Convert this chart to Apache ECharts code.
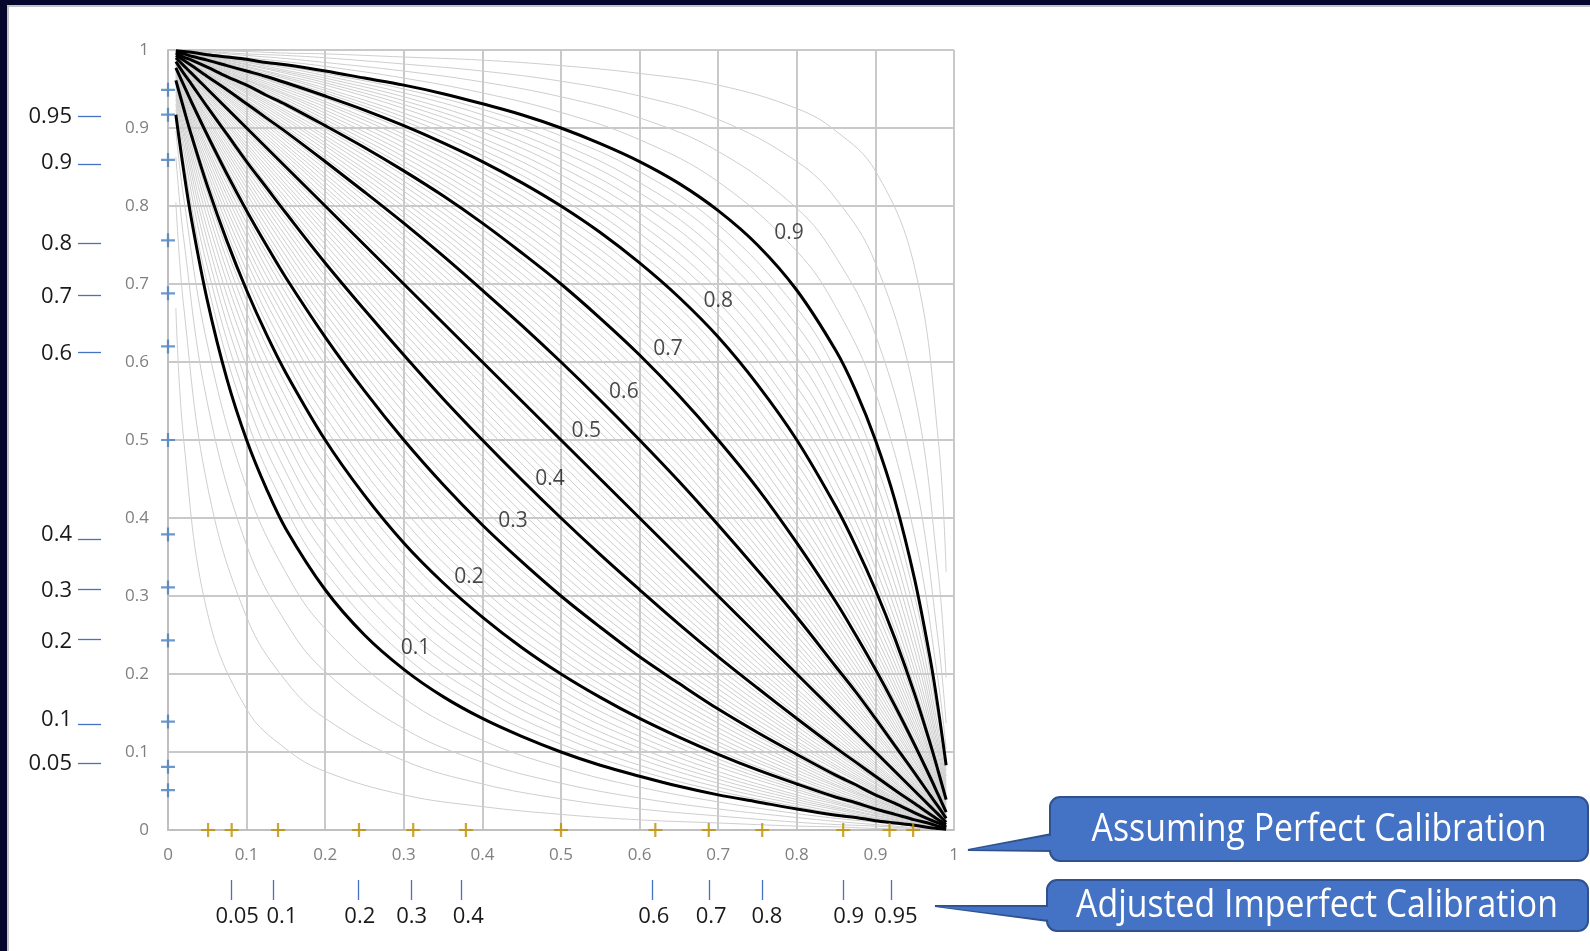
<!DOCTYPE html>
<html>
<head>
<meta charset="utf-8">
<title>Calibration curves</title>
<script src="https://cdn.jsdelivr.net/npm/echarts@6.0.0/dist/echarts.min.js"></script>
<style>
  html, body { margin: 0; padding: 0; background: #fff; }
  #main { width: 1590px; height: 951px; }
</style>
</head>
<body>
<div id="main"></div>
<script>
// x positions at which the labelled curves were read
var xsBlack = [0.01, 0.02, 0.03, 0.05, 0.075, 0.1, 0.125, 0.15, 0.2, 0.25, 0.3, 0.35, 0.4, 0.45, 0.5,
  0.55, 0.6, 0.65, 0.7, 0.75, 0.8, 0.85, 0.875, 0.9, 0.925, 0.95, 0.97, 0.98, 0.99];

// labelled (black) curves
var blackLevels = [0.1, 0.2, 0.3, 0.4, 0.5, 0.6, 0.7, 0.8, 0.9];
var blackCurves = [
  [0.917,0.845,0.782,0.679,0.578,0.500,0.438,0.386,0.308,0.250,0.206,0.171,0.143,0.120,0.100,0.083,0.069,0.056,0.045,0.036,0.027,0.019,0.016,0.012,0.009,0.006,0.003,0.002,0.001],
  [0.961,0.925,0.890,0.826,0.755,0.692,0.636,0.586,0.500,0.429,0.368,0.317,0.273,0.234,0.200,0.170,0.143,0.119,0.097,0.077,0.059,0.042,0.035,0.027,0.020,0.013,0.008,0.005,0.003],
  [0.977,0.955,0.933,0.891,0.841,0.794,0.750,0.708,0.632,0.563,0.500,0.443,0.391,0.344,0.300,0.260,0.222,0.188,0.155,0.125,0.097,0.070,0.058,0.045,0.034,0.022,0.013,0.009,0.004],
  [0.985,0.970,0.956,0.927,0.892,0.857,0.824,0.791,0.727,0.667,0.609,0.553,0.500,0.449,0.400,0.353,0.308,0.264,0.222,0.182,0.143,0.105,0.087,0.069,0.051,0.034,0.020,0.013,0.007],
  [0.990,0.980,0.970,0.950,0.925,0.900,0.875,0.850,0.800,0.750,0.700,0.650,0.600,0.550,0.500,0.450,0.400,0.350,0.300,0.250,0.200,0.150,0.125,0.100,0.075,0.050,0.030,0.020,0.010],
  [0.993,0.987,0.980,0.966,0.949,0.931,0.913,0.895,0.857,0.818,0.778,0.736,0.692,0.647,0.600,0.551,0.500,0.447,0.391,0.333,0.273,0.209,0.177,0.143,0.108,0.073,0.044,0.030,0.015],
  [0.996,0.991,0.987,0.978,0.966,0.955,0.942,0.930,0.903,0.875,0.845,0.813,0.778,0.740,0.700,0.656,0.609,0.557,0.500,0.438,0.368,0.292,0.250,0.206,0.159,0.109,0.067,0.045,0.023],
  [0.997,0.995,0.992,0.987,0.980,0.973,0.966,0.958,0.941,0.923,0.903,0.881,0.857,0.830,0.800,0.766,0.727,0.683,0.632,0.571,0.500,0.414,0.364,0.308,0.245,0.174,0.110,0.075,0.039],
  [0.999,0.998,0.997,0.994,0.991,0.988,0.984,0.981,0.973,0.964,0.955,0.944,0.931,0.917,0.900,0.880,0.857,0.829,0.794,0.750,0.692,0.614,0.563,0.500,0.422,0.321,0.218,0.155,0.083]
];

// x positions at which the gray curves were read
var xsGray = [0.01, 0.02, 0.05, 0.1, 0.15, 0.2, 0.3, 0.4, 0.5, 0.6, 0.7, 0.8, 0.85, 0.9, 0.95, 0.98, 0.99];

// thin gray curves
var grayLevels = [0.02, 0.04, 0.06, 0.08,
  0.11, 0.12, 0.13, 0.14, 0.15, 0.16, 0.17, 0.18, 0.19,
  0.21, 0.22, 0.23, 0.24, 0.25, 0.26, 0.27, 0.28, 0.29,
  0.31, 0.32, 0.33, 0.34, 0.35, 0.36, 0.37, 0.38, 0.39,
  0.41, 0.42, 0.43, 0.44, 0.45, 0.46, 0.47, 0.48, 0.49,
  0.51, 0.52, 0.53, 0.54, 0.55, 0.56, 0.57, 0.58, 0.59,
  0.61, 0.62, 0.63, 0.64, 0.65, 0.66, 0.67, 0.68, 0.69,
  0.71, 0.72, 0.73, 0.74, 0.75, 0.76, 0.77, 0.78, 0.79,
  0.81, 0.82, 0.83, 0.84, 0.85, 0.86, 0.87, 0.88, 0.89,
  0.92, 0.94, 0.96, 0.98];
var grayCurves = [
  [0.669,0.500,0.279,0.155,0.104,0.075,0.045,0.030,0.020,0.013,0.009,0.005,0.004,0.002,0.001,0.000,0.000],
  [0.805,0.671,0.442,0.273,0.191,0.143,0.089,0.059,0.040,0.027,0.018,0.010,0.007,0.005,0.002,0.001,0.000],
  [0.863,0.758,0.548,0.365,0.266,0.203,0.130,0.087,0.060,0.041,0.027,0.016,0.011,0.007,0.003,0.001,0.001],
  [0.896,0.810,0.623,0.439,0.330,0.258,0.169,0.115,0.080,0.055,0.036,0.021,0.015,0.010,0.005,0.002,0.001],
  [0.924,0.858,0.701,0.527,0.412,0.331,0.224,0.156,0.110,0.076,0.050,0.030,0.021,0.014,0.006,0.003,0.001],
  [0.931,0.870,0.722,0.551,0.436,0.353,0.241,0.170,0.120,0.083,0.055,0.033,0.023,0.015,0.007,0.003,0.001],
  [0.937,0.880,0.740,0.574,0.459,0.374,0.259,0.183,0.130,0.091,0.060,0.036,0.026,0.016,0.008,0.003,0.002],
  [0.942,0.889,0.756,0.594,0.480,0.394,0.275,0.196,0.140,0.098,0.065,0.039,0.028,0.018,0.008,0.003,0.002],
  [0.946,0.896,0.770,0.614,0.500,0.414,0.292,0.209,0.150,0.105,0.070,0.042,0.030,0.019,0.009,0.004,0.002],
  [0.950,0.903,0.784,0.632,0.519,0.432,0.308,0.222,0.160,0.113,0.075,0.045,0.033,0.021,0.010,0.004,0.002],
  [0.953,0.909,0.796,0.648,0.537,0.450,0.323,0.235,0.170,0.120,0.081,0.049,0.035,0.022,0.011,0.004,0.002],
  [0.956,0.915,0.807,0.664,0.554,0.468,0.339,0.248,0.180,0.128,0.086,0.052,0.037,0.024,0.011,0.004,0.002],
  [0.959,0.920,0.817,0.679,0.571,0.484,0.354,0.260,0.190,0.135,0.091,0.055,0.040,0.025,0.012,0.005,0.002],
  [0.963,0.929,0.835,0.705,0.601,0.515,0.383,0.285,0.210,0.151,0.102,0.062,0.045,0.029,0.014,0.005,0.003],
  [0.965,0.933,0.843,0.717,0.615,0.530,0.397,0.297,0.220,0.158,0.108,0.066,0.047,0.030,0.015,0.006,0.003],
  [0.967,0.936,0.850,0.729,0.629,0.544,0.411,0.309,0.230,0.166,0.113,0.069,0.050,0.032,0.015,0.006,0.003],
  [0.969,0.939,0.857,0.740,0.642,0.558,0.424,0.321,0.240,0.174,0.119,0.073,0.053,0.034,0.016,0.006,0.003],
  [0.971,0.942,0.864,0.750,0.654,0.571,0.438,0.333,0.250,0.182,0.125,0.077,0.056,0.036,0.017,0.007,0.003],
  [0.972,0.945,0.870,0.760,0.666,0.584,0.450,0.345,0.260,0.190,0.131,0.081,0.058,0.038,0.018,0.007,0.004],
  [0.973,0.948,0.875,0.769,0.677,0.597,0.463,0.357,0.270,0.198,0.137,0.085,0.061,0.039,0.019,0.007,0.004],
  [0.975,0.950,0.881,0.778,0.688,0.609,0.476,0.368,0.280,0.206,0.143,0.089,0.064,0.041,0.020,0.008,0.004],
  [0.976,0.952,0.886,0.786,0.698,0.620,0.488,0.380,0.290,0.214,0.149,0.093,0.067,0.043,0.021,0.008,0.004],
  [0.978,0.957,0.895,0.802,0.718,0.642,0.512,0.403,0.310,0.230,0.161,0.101,0.073,0.048,0.023,0.009,0.005],
  [0.979,0.958,0.899,0.809,0.727,0.653,0.523,0.414,0.320,0.239,0.168,0.105,0.077,0.050,0.024,0.010,0.005],
  [0.980,0.960,0.903,0.816,0.736,0.663,0.535,0.425,0.330,0.247,0.174,0.110,0.080,0.052,0.025,0.010,0.005],
  [0.981,0.962,0.907,0.823,0.745,0.673,0.546,0.436,0.340,0.256,0.181,0.114,0.083,0.054,0.026,0.010,0.005],
  [0.982,0.963,0.911,0.829,0.753,0.683,0.557,0.447,0.350,0.264,0.188,0.119,0.087,0.056,0.028,0.011,0.005],
  [0.982,0.965,0.914,0.835,0.761,0.692,0.568,0.458,0.360,0.273,0.194,0.123,0.090,0.059,0.029,0.011,0.006],
  [0.983,0.966,0.918,0.841,0.769,0.701,0.578,0.468,0.370,0.281,0.201,0.128,0.094,0.061,0.030,0.012,0.006],
  [0.984,0.968,0.921,0.847,0.776,0.710,0.588,0.479,0.380,0.290,0.208,0.133,0.098,0.064,0.031,0.012,0.006],
  [0.984,0.969,0.924,0.852,0.784,0.719,0.599,0.490,0.390,0.299,0.215,0.138,0.101,0.066,0.033,0.013,0.006],
  [0.986,0.971,0.930,0.862,0.797,0.735,0.619,0.510,0.410,0.317,0.229,0.148,0.109,0.072,0.035,0.014,0.007],
  [0.986,0.973,0.932,0.867,0.804,0.743,0.628,0.521,0.420,0.326,0.237,0.153,0.113,0.074,0.037,0.015,0.007],
  [0.987,0.974,0.935,0.872,0.810,0.751,0.638,0.531,0.430,0.335,0.244,0.159,0.117,0.077,0.038,0.015,0.008],
  [0.987,0.975,0.937,0.876,0.817,0.759,0.647,0.541,0.440,0.344,0.252,0.164,0.122,0.080,0.040,0.016,0.008],
  [0.988,0.976,0.940,0.880,0.823,0.766,0.656,0.551,0.450,0.353,0.260,0.170,0.126,0.083,0.041,0.016,0.008],
  [0.988,0.977,0.942,0.885,0.828,0.773,0.665,0.561,0.460,0.362,0.267,0.176,0.131,0.086,0.043,0.017,0.009],
  [0.989,0.978,0.944,0.889,0.834,0.780,0.674,0.571,0.470,0.372,0.275,0.181,0.135,0.090,0.045,0.018,0.009],
  [0.989,0.978,0.946,0.893,0.840,0.787,0.683,0.581,0.480,0.381,0.283,0.188,0.140,0.093,0.046,0.018,0.009],
  [0.990,0.979,0.948,0.896,0.845,0.794,0.692,0.590,0.490,0.390,0.292,0.194,0.145,0.096,0.048,0.019,0.010],
  [0.990,0.981,0.952,0.904,0.855,0.806,0.708,0.610,0.510,0.410,0.308,0.206,0.155,0.104,0.052,0.021,0.010],
  [0.991,0.982,0.954,0.907,0.860,0.812,0.717,0.619,0.520,0.419,0.317,0.213,0.160,0.107,0.054,0.022,0.011],
  [0.991,0.982,0.955,0.910,0.865,0.819,0.725,0.628,0.530,0.429,0.326,0.220,0.166,0.111,0.056,0.022,0.011],
  [0.991,0.983,0.957,0.914,0.869,0.824,0.733,0.638,0.540,0.439,0.335,0.227,0.172,0.115,0.058,0.023,0.012],
  [0.992,0.984,0.959,0.917,0.874,0.830,0.740,0.647,0.550,0.449,0.344,0.234,0.177,0.120,0.060,0.024,0.012],
  [0.992,0.984,0.960,0.920,0.878,0.836,0.748,0.656,0.560,0.459,0.353,0.241,0.183,0.124,0.063,0.025,0.013],
  [0.992,0.985,0.962,0.923,0.883,0.841,0.756,0.665,0.570,0.469,0.362,0.249,0.190,0.128,0.065,0.026,0.013],
  [0.993,0.985,0.963,0.926,0.887,0.847,0.763,0.674,0.580,0.479,0.372,0.257,0.196,0.133,0.068,0.027,0.014],
  [0.993,0.986,0.965,0.928,0.891,0.852,0.771,0.683,0.590,0.490,0.381,0.265,0.203,0.138,0.070,0.029,0.014],
  [0.994,0.987,0.967,0.934,0.899,0.862,0.785,0.701,0.610,0.510,0.401,0.281,0.216,0.148,0.076,0.031,0.016],
  [0.994,0.988,0.969,0.936,0.902,0.867,0.792,0.710,0.620,0.521,0.412,0.290,0.224,0.153,0.079,0.032,0.016],
  [0.994,0.988,0.970,0.939,0.906,0.872,0.799,0.719,0.630,0.532,0.422,0.299,0.231,0.159,0.082,0.034,0.017],
  [0.994,0.989,0.971,0.941,0.910,0.877,0.806,0.727,0.640,0.542,0.432,0.308,0.239,0.165,0.086,0.035,0.018],
  [0.995,0.989,0.972,0.944,0.913,0.881,0.812,0.736,0.650,0.553,0.443,0.317,0.247,0.171,0.089,0.037,0.018],
  [0.995,0.990,0.974,0.946,0.917,0.886,0.819,0.744,0.660,0.564,0.454,0.327,0.255,0.177,0.093,0.038,0.019],
  [0.995,0.990,0.975,0.948,0.920,0.890,0.826,0.753,0.670,0.575,0.465,0.337,0.264,0.184,0.097,0.040,0.020],
  [0.995,0.990,0.976,0.950,0.923,0.895,0.832,0.761,0.680,0.586,0.477,0.347,0.273,0.191,0.101,0.042,0.021],
  [0.995,0.991,0.977,0.952,0.927,0.899,0.839,0.770,0.690,0.597,0.488,0.358,0.282,0.198,0.105,0.043,0.022],
  [0.996,0.992,0.979,0.957,0.933,0.907,0.851,0.786,0.710,0.620,0.512,0.380,0.302,0.214,0.114,0.048,0.024],
  [0.996,0.992,0.980,0.959,0.936,0.911,0.857,0.794,0.720,0.632,0.524,0.391,0.312,0.222,0.119,0.050,0.025],
  [0.996,0.993,0.981,0.961,0.939,0.915,0.863,0.802,0.730,0.643,0.537,0.403,0.323,0.231,0.125,0.052,0.027],
  [0.996,0.993,0.982,0.962,0.942,0.919,0.869,0.810,0.740,0.655,0.550,0.416,0.334,0.240,0.130,0.055,0.028],
  [0.997,0.993,0.983,0.964,0.944,0.923,0.875,0.818,0.750,0.667,0.562,0.429,0.346,0.250,0.136,0.058,0.029],
  [0.997,0.994,0.984,0.966,0.947,0.927,0.881,0.826,0.760,0.679,0.576,0.442,0.358,0.260,0.143,0.061,0.031],
  [0.997,0.994,0.985,0.968,0.950,0.931,0.887,0.834,0.770,0.691,0.589,0.456,0.371,0.271,0.150,0.064,0.033],
  [0.997,0.994,0.985,0.970,0.953,0.934,0.892,0.842,0.780,0.703,0.603,0.470,0.385,0.283,0.157,0.067,0.035],
  [0.997,0.995,0.986,0.971,0.955,0.938,0.898,0.849,0.790,0.715,0.617,0.485,0.399,0.295,0.165,0.071,0.037],
  [0.998,0.995,0.988,0.975,0.960,0.945,0.909,0.865,0.810,0.740,0.646,0.516,0.429,0.321,0.183,0.080,0.041],
  [0.998,0.996,0.989,0.976,0.963,0.948,0.914,0.872,0.820,0.752,0.661,0.532,0.446,0.336,0.193,0.085,0.044],
  [0.998,0.996,0.989,0.978,0.965,0.951,0.919,0.880,0.830,0.765,0.677,0.550,0.463,0.352,0.204,0.091,0.047],
  [0.998,0.996,0.990,0.979,0.967,0.955,0.925,0.887,0.840,0.778,0.692,0.568,0.481,0.368,0.216,0.097,0.050],
  [0.998,0.996,0.991,0.981,0.970,0.958,0.930,0.895,0.850,0.791,0.708,0.586,0.500,0.386,0.230,0.104,0.054],
  [0.998,0.997,0.992,0.982,0.972,0.961,0.935,0.902,0.860,0.804,0.725,0.606,0.520,0.406,0.244,0.111,0.058],
  [0.998,0.997,0.992,0.984,0.974,0.964,0.940,0.909,0.870,0.817,0.741,0.626,0.541,0.426,0.260,0.120,0.063],
  [0.999,0.997,0.993,0.985,0.977,0.967,0.945,0.917,0.880,0.830,0.759,0.647,0.564,0.449,0.278,0.130,0.069],
  [0.999,0.997,0.994,0.986,0.979,0.970,0.950,0.924,0.890,0.844,0.776,0.669,0.588,0.473,0.299,0.142,0.076],
  [0.999,0.998,0.995,0.990,0.985,0.979,0.964,0.945,0.920,0.885,0.831,0.742,0.670,0.561,0.377,0.190,0.104],
  [0.999,0.999,0.997,0.993,0.989,0.984,0.973,0.959,0.940,0.913,0.870,0.797,0.734,0.635,0.452,0.242,0.137],
  [1.000,0.999,0.998,0.995,0.993,0.990,0.982,0.973,0.960,0.941,0.911,0.857,0.809,0.727,0.558,0.329,0.195],
  [1.000,1.000,0.999,0.998,0.996,0.995,0.991,0.987,0.980,0.970,0.955,0.925,0.896,0.845,0.721,0.500,0.331]
];

// where the curve names sit
var labelX = [0.315, 0.383, 0.439, 0.486, 0.532, 0.580, 0.636, 0.700, 0.790];
var labelY = [0.233, 0.324, 0.396, 0.450, 0.511, 0.562, 0.617, 0.678, 0.765];

// crosses on the axes
var plusY = [0.949, 0.917, 0.859, 0.756, 0.688, 0.620, 0.500, 0.379, 0.311, 0.243, 0.139, 0.081, 0.051];
var plusX = [0.051, 0.081, 0.140, 0.243, 0.312, 0.379, 0.500, 0.620, 0.688, 0.756, 0.859, 0.918, 0.948];

// adjusted scale on the left
var leftTexts  = ['0.95', '0.9', '0.8', '0.7', '0.6', '0.4', '0.3', '0.2', '0.1', '0.05'];
var leftLabelY = [0.914, 0.856, 0.751, 0.684, 0.611, 0.378, 0.307, 0.241, 0.141, 0.085];
var leftDashY  = [0.915, 0.854, 0.752, 0.685, 0.613, 0.373, 0.309, 0.245, 0.135, 0.085];

// adjusted scale at the bottom
var bottomTexts  = ['0.05', '0.1', '0.2', '0.3', '0.4', '0.6', '0.7', '0.8', '0.9', '0.95'];
var bottomLabelX = [0.088, 0.145, 0.244, 0.310, 0.382, 0.618, 0.691, 0.762, 0.866, 0.926];
var bottomDashX  = [0.081, 0.134, 0.242, 0.309, 0.373, 0.616, 0.688, 0.756, 0.859, 0.920];

var calloutTexts = ['Assuming Perfect Calibration', 'Adjusted Imperfect Calibration'];

var FONT = '"Open Sans", "Noto Sans", sans-serif';
var PLUS = 'path://M42,0H58V42H100V58H58V100H42V58H0V42H42Z';

function pick(vals, texts) {
  return function (v) {
    var best = 0;
    for (var k = 0; k < vals.length; k++) {
      if (Math.abs(vals[k] - v) < Math.abs(vals[best] - v)) best = k;
    }
    return texts[best];
  };
}

function toPoints(xs, ys) {
  return xs.map(function (x, j) { return [x, ys[j]]; });
}

var myChart = echarts.init(document.getElementById('main'), null, { renderer: 'canvas' });

var series = [];
for (var i = 0; i < grayCurves.length; i++) {
  series.push({
    type: 'line', name: 'p' + grayLevels[i], data: toPoints(xsGray, grayCurves[i]),
    showSymbol: false, smooth: 0.4, silent: true, z: 2,
    lineStyle: { color: '#cecece', width: 1 }
  });
}
for (var b = 0; b < blackCurves.length; b++) {
  series.push({
    type: 'line', name: 'p' + blackLevels[b], data: toPoints(xsBlack, blackCurves[b]),
    showSymbol: false, smooth: 0.35, silent: true, z: 3,
    lineStyle: { color: '#000', width: 3 }
  });
}
// curve names
series.push({
  type: 'scatter', silent: true, z: 6, symbolSize: 1,
  itemStyle: { color: 'transparent' },
  data: labelX.map(function (x, k) { return [x, labelY[k], blackLevels[k]]; }),
  label: {
    show: true, position: 'inside', color: '#1a1a1a', fontSize: 21, fontFamily: FONT,
    formatter: function (p) { return String(p.data[2]); }
  }
});
// crosses
series.push({
  type: 'scatter', silent: true, z: 7, clip: false, symbol: PLUS, symbolSize: 14,
  itemStyle: { color: '#4a7ebb' },
  data: plusY.map(function (y) { return [0, y]; })
});
series.push({
  type: 'scatter', silent: true, z: 7, clip: false, symbol: PLUS, symbolSize: 14,
  itemStyle: { color: '#bf9000' },
  data: plusX.map(function (x) { return [x, 0]; })
});

var gridLine = { color: '#c9c9c9', width: 2 };
var calloutFill = '#4472c4', calloutEdge = '#2f528f';

var option = {
  animation: false,
  backgroundColor: '#ffffff',
  textStyle: { fontFamily: FONT },
  grid: { left: 168, right: 636, top: 50, bottom: 121, containLabel: false, outerBoundsMode: 'none' },
  xAxis: [
    {
      type: 'value', min: 0, max: 1, interval: 0.1,
      axisLine: { show: true, lineStyle: { color: '#bfbfbf', width: 2 } },
      axisTick: { show: false },
      axisLabel: { color: '#808080', fontSize: 17, margin: 17, fontFamily: FONT },
      splitLine: { show: true, lineStyle: gridLine }
    },
    {
      type: 'value', min: 0, max: 1, position: 'bottom', offset: 50,
      axisLine: { show: false, onZero: false },
      axisTick: { show: true, customValues: bottomDashX, length: 20, lineStyle: { color: '#4472c4', width: 1.3 } },
      axisLabel: { show: false },
      splitLine: { show: false }
    },
    {
      type: 'value', min: 0, max: 1, position: 'bottom', offset: 50,
      axisLine: { show: false, onZero: false },
      axisTick: { show: false },
      axisLabel: {
        customValues: bottomLabelX, formatter: pick(bottomLabelX, bottomTexts),
        margin: 26, fontSize: 22, color: '#1a1a1a', fontFamily: FONT
      },
      splitLine: { show: false }
    }
  ],
  yAxis: [
    {
      type: 'value', min: 0, max: 1, interval: 0.1,
      axisLine: { show: true, lineStyle: { color: '#bfbfbf', width: 2 } },
      axisTick: { show: false },
      axisLabel: { color: '#808080', fontSize: 17, margin: 19, fontFamily: FONT },
      splitLine: { show: true, lineStyle: gridLine }
    },
    {
      type: 'value', min: 0, max: 1, position: 'left', offset: 67,
      axisLine: { show: false, onZero: false },
      axisTick: { show: true, customValues: leftDashY, length: 23, lineStyle: { color: '#4472c4', width: 1.3 } },
      axisLabel: { show: false },
      splitLine: { show: false }
    },
    {
      type: 'value', min: 0, max: 1, position: 'left', offset: 67,
      axisLine: { show: false, onZero: false },
      axisTick: { show: false },
      axisLabel: {
        customValues: leftLabelY, formatter: pick(leftLabelY, leftTexts),
        margin: 29, fontSize: 22, color: '#1a1a1a', fontFamily: FONT
      },
      splitLine: { show: false }
    }
  ],
  series: series,
  graphic: [
    // dark frame top and left
    { type: 'rect', z: 100, shape: { x: 0, y: 0, width: 1590, height: 5 }, style: { fill: '#07072e' } },
    { type: 'rect', z: 100, shape: { x: 0, y: 0, width: 7, height: 951 }, style: { fill: '#07072e' } },
    { type: 'rect', z: 99, shape: { x: 7, y: 5, width: 1583, height: 2 }, style: { fill: '#c4c4c4' } },
    { type: 'rect', z: 99, shape: { x: 7, y: 5, width: 2, height: 946 }, style: { fill: '#c4c4c4' } },
    // callout 1
    { type: 'polygon', z: 50, shape: { points: [[968, 850], [1052, 834], [1052, 851]] },
      style: { fill: calloutFill, stroke: calloutEdge, lineWidth: 2 } },
    { type: 'rect', z: 51, shape: { x: 1050, y: 797, width: 538, height: 64, r: 10 },
      style: { fill: calloutFill, stroke: calloutEdge, lineWidth: 2 } },
    { type: 'polygon', z: 52, shape: { points: [[971, 849.5], [1054, 835.2], [1054, 850]] },
      style: { fill: calloutFill } },
    {
      type: 'text', z: 53, x: 1319, y: 830, scaleX: 0.89,
      style: { text: calloutTexts[0], fill: '#ffffff', fontSize: 38, fontFamily: FONT, align: 'center', verticalAlign: 'middle' }
    },
    // callout 2
    { type: 'polygon', z: 50, shape: { points: [[935, 906], [1049, 906], [1049, 921]] },
      style: { fill: calloutFill, stroke: calloutEdge, lineWidth: 2 } },
    { type: 'rect', z: 51, shape: { x: 1047, y: 880, width: 541, height: 51, r: 10 },
      style: { fill: calloutFill, stroke: calloutEdge, lineWidth: 2 } },
    { type: 'polygon', z: 52, shape: { points: [[938, 906.8], [1051, 907], [1051, 920]] },
      style: { fill: calloutFill } },
    {
      type: 'text', z: 53, x: 1317, y: 906, scaleX: 0.89,
      style: { text: calloutTexts[1], fill: '#ffffff', fontSize: 38, fontFamily: FONT, align: 'center', verticalAlign: 'middle' }
    }
  ]
};

myChart.setOption(option);
window.addEventListener('resize', function () {
  myChart.resize();
});
</script>
</body>
</html>
